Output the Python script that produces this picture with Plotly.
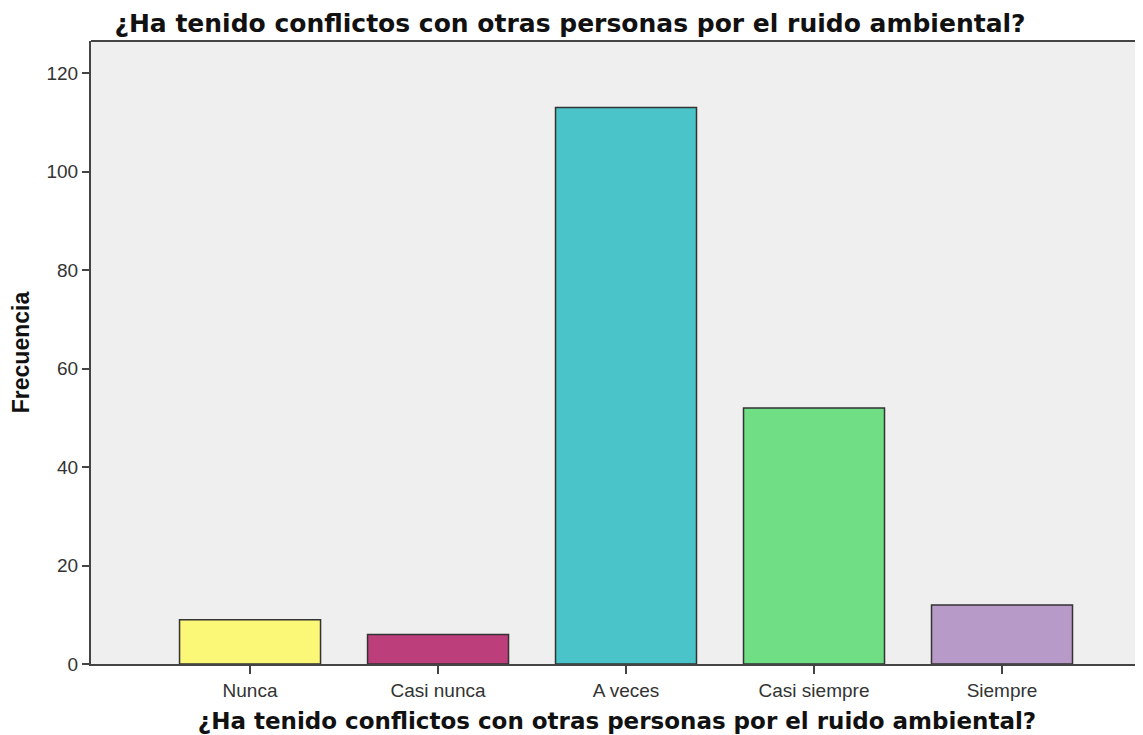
import plotly.graph_objects as go

categories = ["Nunca", "Casi nunca", "A veces", "Casi siempre", "Siempre"]
frecuencia = [9, 6, 113, 52, 12]
bar_colors = ["#fbf877", "#bc3f7b", "#4ac4c8", "#6fde84", "#b89ac8"]
title_text = "¿Ha tenido conflictos con otras personas por el ruido ambiental?"
y_ticks = [0, 20, 40, 60, 80, 100, 120]

W, H = 1135, 727  # page has an 8px body margin

fig = go.Figure()
fig.add_trace(go.Bar(
    x=list(range(len(categories))),
    y=frecuencia,
    width=0.75,
    marker=dict(color=bar_colors, line=dict(color="#333333", width=1.5)),
    showlegend=False,
))

fig.update_layout(
    width=W, height=H,
    margin=dict(l=83, r=0, t=33, b=71),
    paper_bgcolor="white",
    plot_bgcolor="#efefef",
    title=dict(text=title_text, x=562 / W, xref="container", xanchor="center",
               y=1 - 15 / H, yref="container", yanchor="middle",
               font=dict(family="DejaVu Sans, Verdana, sans-serif", size=25, color="#111111", weight="bold")),
    font=dict(family="Liberation Sans, Arial, sans-serif", color="#333333"),
)

fig.update_xaxes(
    range=[-0.846, 4.75],
    tickmode="array",
    tickvals=list(range(len(categories))),
    ticktext=categories,
    tickfont=dict(size=19, color="#333333"),
    ticks="outside", ticklen=8, tickwidth=2, tickcolor="#444444",
    showline=True, linecolor="#444444", linewidth=2,
    showgrid=False, zeroline=False,
    title=dict(text=title_text, standoff=13,
               font=dict(family="DejaVu Sans, Verdana, sans-serif", size=23, color="#111111", weight="bold")),
)
fig.update_yaxes(
    range=[0, 126.5],
    tickmode="array",
    tickvals=y_ticks,
    tickfont=dict(size=19, color="#333333"),
    ticks="outside", ticklen=7, tickwidth=2, tickcolor="#444444",
    showline=True, linecolor="#444444", linewidth=2, mirror=False,
    showgrid=False, zeroline=False,
    title=dict(text="Frecuencia", standoff=22,
               font=dict(family="Liberation Sans, Arial, sans-serif", size=23, color="#111111", weight="bold")),
)

# top border of the plot area
fig.add_shape(type="line", xref="paper", yref="paper", x0=0, x1=1, y0=1, y1=1,
              line=dict(color="#444444", width=2))

fig.write_html("out.html")
